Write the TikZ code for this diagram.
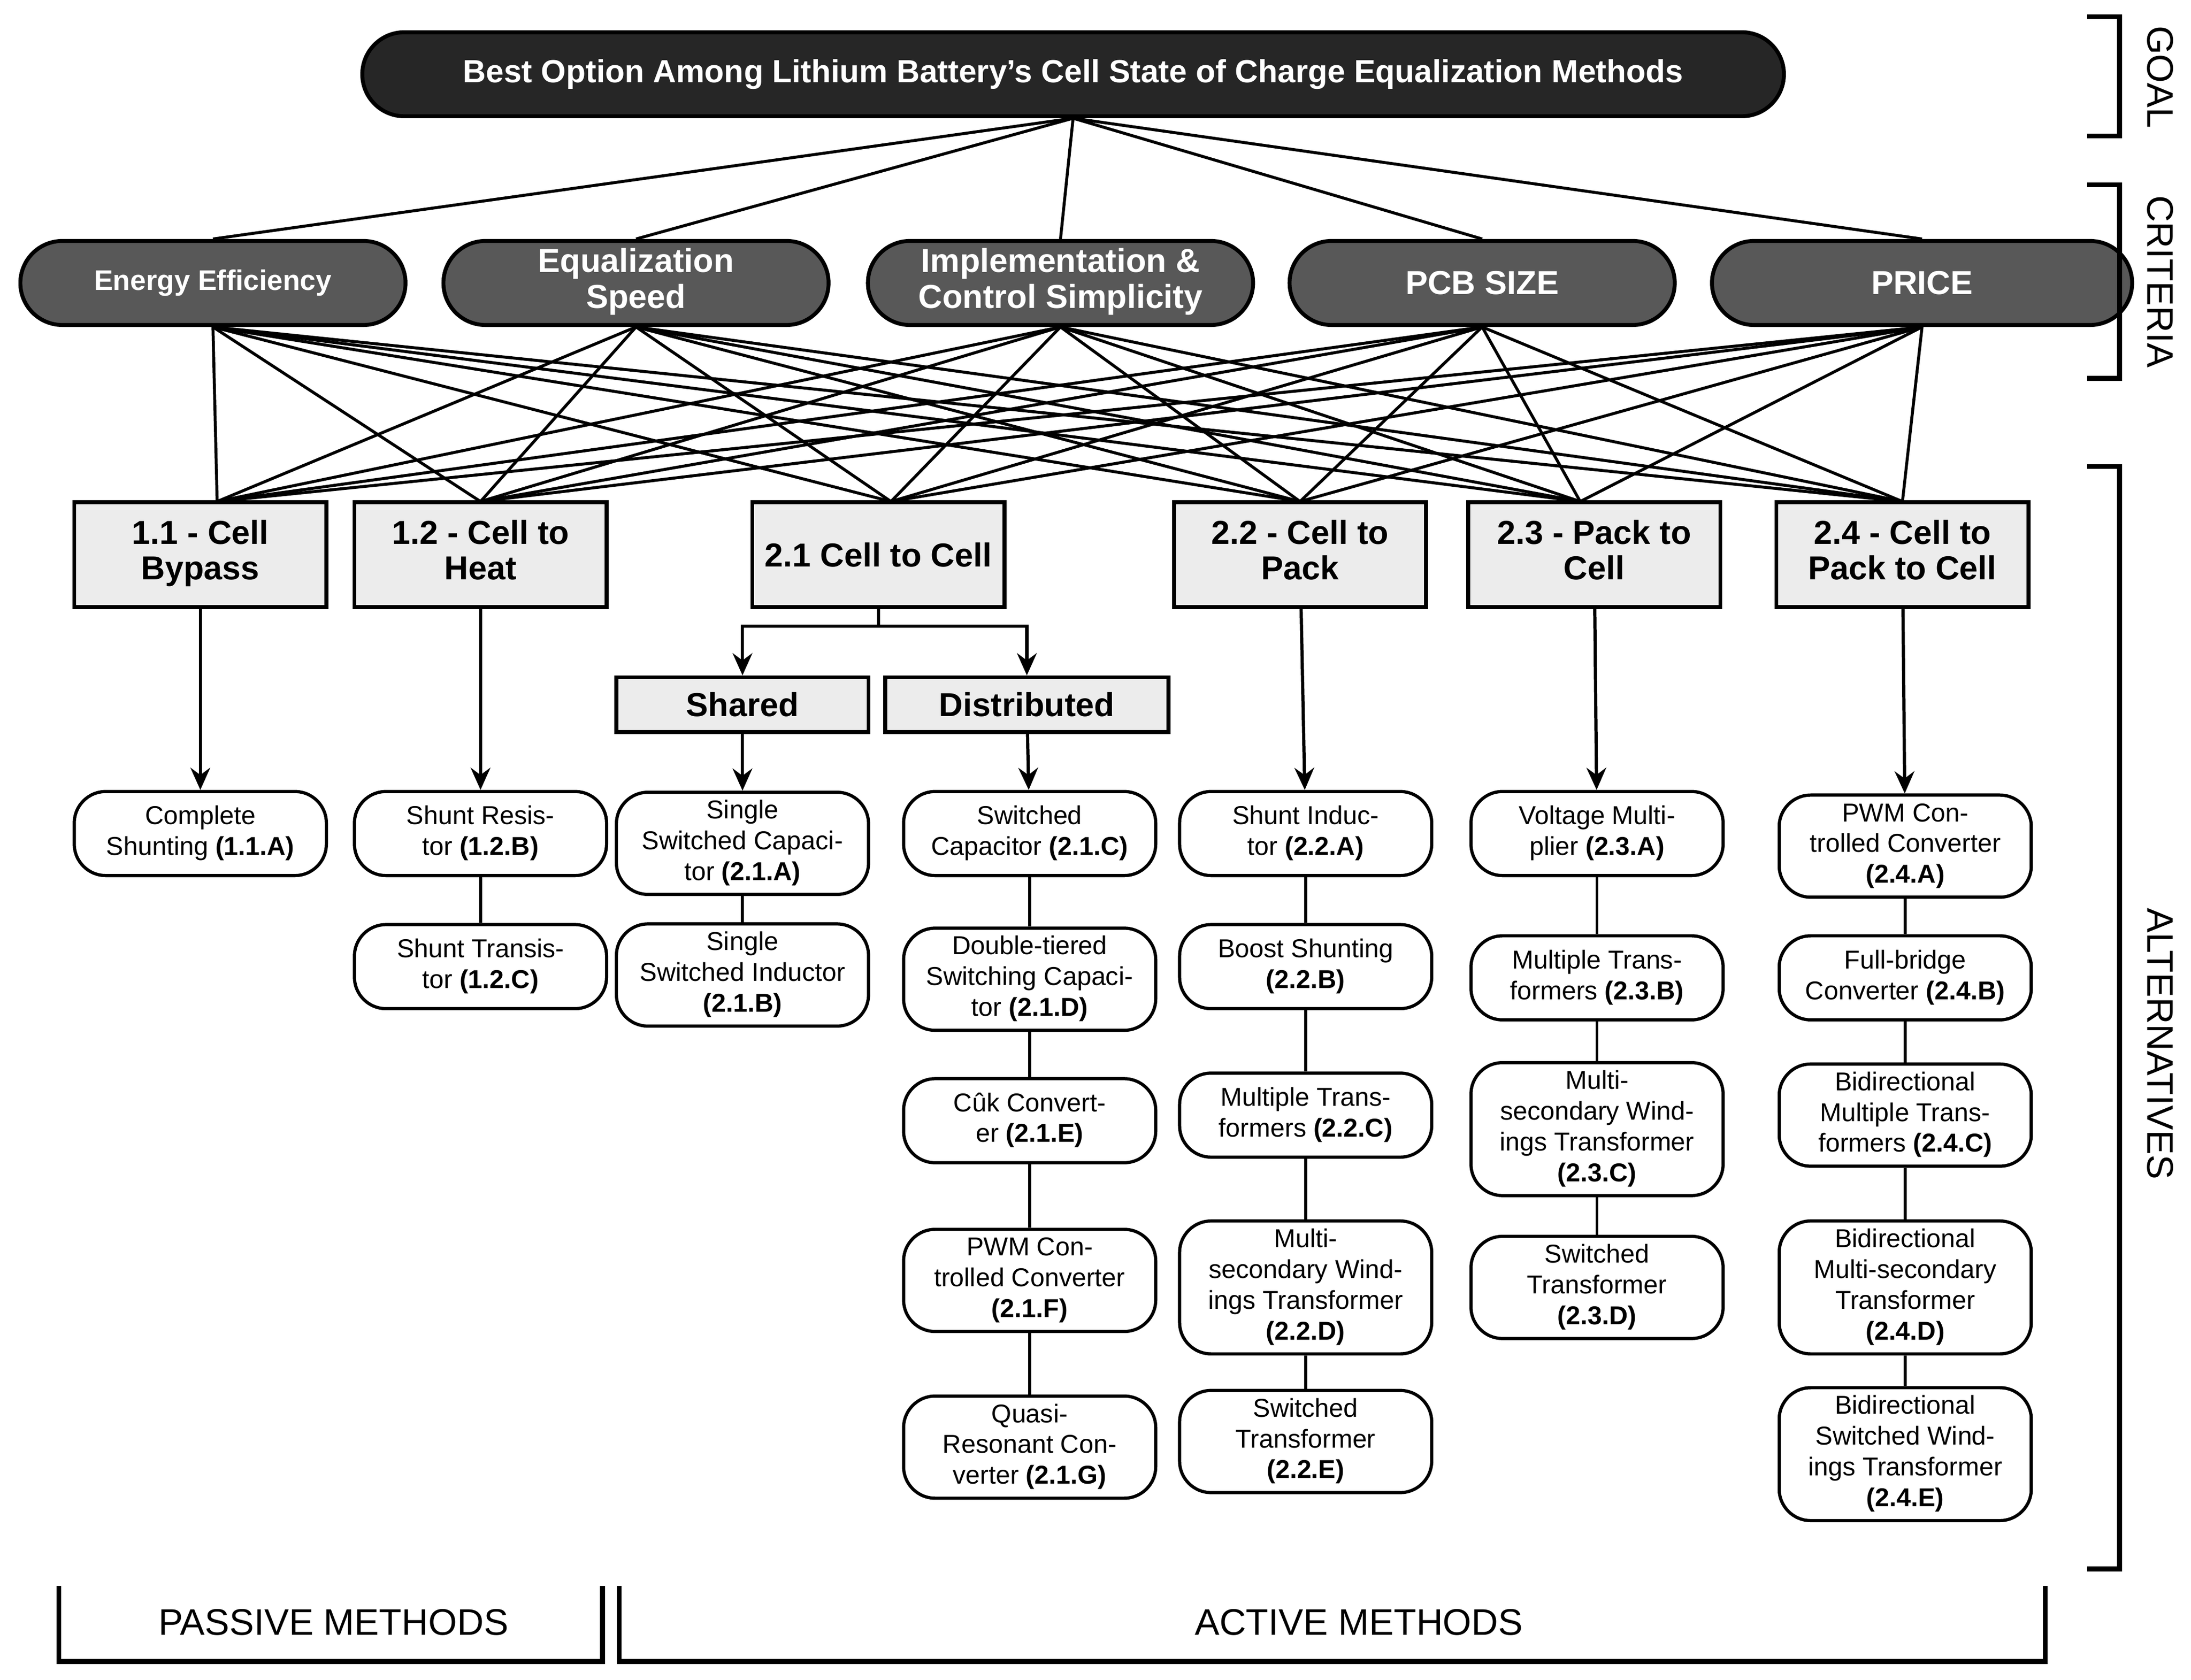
\documentclass[tikz,border=0pt]{standalone}
\usepackage{fontspec}
\setmainfont{Liberation Sans}
\usetikzlibrary{arrows.meta}
\definecolor{goalgray}{RGB}{38,38,38}
\definecolor{critgray}{RGB}{88,88,88}
\definecolor{catgray}{RGB}{236,236,236}
\tikzset{
  goal/.style={draw,line width=1.6pt,fill=goalgray,text=white,rounded corners=0.6cm,minimum width=20.3cm,minimum height=1.2cm,font=\fontsize{13}{15}\selectfont\bfseries},
  crit/.style={draw,line width=1.6pt,fill=critgray,text=white,rounded corners=0.6cm,minimum width=5.5cm,minimum height=1.2cm,inner sep=1pt,font=\fontsize{13.5}{14.5}\selectfont\bfseries},
  cat/.style={draw,line width=1.6pt,fill=catgray,minimum width=3.6cm,minimum height=1.5cm,inner sep=1pt,font=\fontsize{13.5}{14.5}\selectfont\bfseries},
  leaf/.style={draw,line width=1.3pt,fill=white,rounded corners=0.45cm,minimum width=3.6cm,minimum height=1.2cm,inner sep=2pt,font=\fontsize{10.5}{12.5}\selectfont},
  link/.style={line width=1.2pt},
  arr/.style={line width=1.3pt,-{Stealth[length=9pt,width=8pt]}},
  side/.style={font=\fontsize{15}{17}\selectfont,rotate=-90},
}
\begin{document}
\begin{tikzpicture}[x=0.02cm,y=-0.02cm]
            \useasboundingbox (0,0) rectangle (1564,1199);

            \node[goal] (G) at (766, 53) {Best Option Among Lithium Battery’s Cell State of Charge Equalization Methods};

            \node[crit,font=\fontsize{11.5}{13}\selectfont\bfseries] (en) at (152, 202) {Energy Efficiency};
            \node[crit] (eq) at (454, 202) {\begin{tabular}{c}Equalization\\Speed\end{tabular}};
            \node[crit] (im) at (757, 202) {\begin{tabular}{c}Implementation \&\\Control Simplicity\end{tabular}};
            \node[crit] (pcb) at (1058, 202) {PCB SIZE};
            \node[crit,minimum width=6cm] (pr) at (1372, 202) {PRICE};

            \node[cat] (c11) at (143, 396) {\begin{tabular}{c}1.1 - Cell\\Bypass\end{tabular}};
            \node[cat] (c12) at (343, 396) {\begin{tabular}{c}1.2 - Cell to\\Heat\end{tabular}};
            \node[cat] (c21) at (627, 396) {2.1 Cell to Cell};
            \node[cat] (c22) at (928, 396) {\begin{tabular}{c}2.2 - Cell to\\Pack\end{tabular}};
            \node[cat] (c23) at (1138, 396) {\begin{tabular}{c}2.3 - Pack to\\Cell\end{tabular}};
            \node[cat] (c24) at (1358, 396) {\begin{tabular}{c}2.4 - Cell to\\Pack to Cell\end{tabular}};

            \coordinate (t1) at (155, 358);
            \coordinate (t2) at (343, 358);
            \coordinate (t3) at (636, 358);
            \coordinate (t4) at (928, 358);
            \coordinate (t5) at (1128, 358);
            \coordinate (t6) at (1358, 358);

            \node[cat,minimum height=0.78cm] (sh) at (530, 503) {Shared};
            \node[cat,minimum width=4.04cm,minimum height=0.78cm] (di) at (733, 503) {Distributed};
            \coordinate (split) at (627, 447);

            % passive
            \node[leaf] (l11a) at (143, 595) {\begin{tabular}{c}Complete\\Shunting \textbf{(1.1.A)}\end{tabular}};
            \node[leaf] (l12b) at (343, 595) {\begin{tabular}{c}Shunt Resis-\\tor \textbf{(1.2.B)}\end{tabular}};
            \node[leaf] (l12c) at (343, 690) {\begin{tabular}{c}Shunt Transis-\\tor \textbf{(1.2.C)}\end{tabular}};

            % cell to cell
            \node[leaf] (l21a) at (530, 602) {\begin{tabular}{c}Single\\Switched Capaci-\\tor \textbf{(2.1.A)}\end{tabular}};
            \node[leaf] (l21b) at (530, 696) {\begin{tabular}{c}Single\\Switched Inductor\\\textbf{(2.1.B)}\end{tabular}};
            \node[leaf] (l21c) at (735, 595) {\begin{tabular}{c}Switched\\Capacitor \textbf{(2.1.C)}\end{tabular}};
            \node[leaf] (l21d) at (735, 699) {\begin{tabular}{c}Double-tiered\\Switching Capaci-\\tor \textbf{(2.1.D)}\end{tabular}};
            \node[leaf] (l21e) at (735, 800) {\begin{tabular}{c}Cûk Convert-\\er \textbf{(2.1.E)}\end{tabular}};
            \node[leaf] (l21f) at (735, 914) {\begin{tabular}{c}PWM Con-\\trolled Converter\\\textbf{(2.1.F)}\end{tabular}};
            \node[leaf] (l21g) at (735, 1033) {\begin{tabular}{c}Quasi-\\Resonant Con-\\verter \textbf{(2.1.G)}\end{tabular}};

            % cell to pack
            \node[leaf] (l22a) at (932, 595) {\begin{tabular}{c}Shunt Induc-\\tor \textbf{(2.2.A)}\end{tabular}};
            \node[leaf] (l22b) at (932, 690) {\begin{tabular}{c}Boost Shunting\\\textbf{(2.2.B)}\end{tabular}};
            \node[leaf] (l22c) at (932, 796) {\begin{tabular}{c}Multiple Trans-\\formers \textbf{(2.2.C)}\end{tabular}};
            \node[leaf] (l22d) at (932, 919) {\begin{tabular}{c}Multi-\\secondary Wind-\\ings Transformer\\\textbf{(2.2.D)}\end{tabular}};
            \node[leaf] (l22e) at (932, 1029) {\begin{tabular}{c}Switched\\Transformer\\\textbf{(2.2.E)}\end{tabular}};

            % pack to cell
            \node[leaf] (l23a) at (1140, 595) {\begin{tabular}{c}Voltage Multi-\\plier \textbf{(2.3.A)}\end{tabular}};
            \node[leaf] (l23b) at (1140, 698) {\begin{tabular}{c}Multiple Trans-\\formers \textbf{(2.3.B)}\end{tabular}};
            \node[leaf] (l23c) at (1140, 806) {\begin{tabular}{c}Multi-\\secondary Wind-\\ings Transformer\\\textbf{(2.3.C)}\end{tabular}};
            \node[leaf] (l23d) at (1140, 919) {\begin{tabular}{c}Switched\\Transformer\\\textbf{(2.3.D)}\end{tabular}};

            % cell to pack to cell
            \node[leaf] (l24a) at (1360, 604) {\begin{tabular}{c}PWM Con-\\trolled Converter\\\textbf{(2.4.A)}\end{tabular}};
            \node[leaf] (l24b) at (1360, 698) {\begin{tabular}{c}Full-bridge\\Converter \textbf{(2.4.B)}\end{tabular}};
            \node[leaf] (l24c) at (1360, 796) {\begin{tabular}{c}Bidirectional\\Multiple Trans-\\formers \textbf{(2.4.C)}\end{tabular}};
            \node[leaf] (l24d) at (1360, 919) {\begin{tabular}{c}Bidirectional\\Multi-secondary\\Transformer\\\textbf{(2.4.D)}\end{tabular}};
            \node[leaf] (l24e) at (1360, 1038) {\begin{tabular}{c}Bidirectional\\Switched Wind-\\ings Transformer\\\textbf{(2.4.E)}\end{tabular}};

            \foreach \c in {en,eq,im,pcb,pr} {
                \draw[link] (G.south) to (\c.north);
                \foreach \t in {t1,t2,t3,t4,t5,t6}
                    \draw[link] (\c.south) to (\t);
            }

            \draw[arr] (c11) to (l11a);
            \draw[arr] (c12) to (l12b);
            \draw[arr] (c22) to (l22a);
            \draw[arr] (c23) to (l23a);
            \draw[arr] (c24) to (l24a);
            \draw[link] (c21.south) to (split);
            \draw[arr] (split) -| (sh.north);
            \draw[arr] (split) -| (di.north);
            \draw[arr] (sh) to (l21a);
            \draw[arr] (di) to (l21c);

            \draw[link] (l12b) to (l12c);
            \draw[link] (l21a) to (l21b);
            \draw[link] (l21c) to (l21d) (l21d) to (l21e) (l21e) to (l21f) (l21f) to (l21g);
            \draw[link] (l22a) to (l22b) (l22b) to (l22c) (l22c) to (l22d) (l22d) to (l22e);
            \draw[link] (l23a) to (l23b) (l23b) to (l23c) (l23c) to (l23d);
            \draw[link] (l24a) to (l24b) (l24b) to (l24c) (l24c) to (l24d) (l24d) to (l24e);

            % brackets
            \draw[line width=2pt] (1490, 12) -| (1513, 97) -- (1490, 97);
            \draw[line width=2pt] (1490, 132) -| (1513, 270) -- (1490, 270);
            \draw[line width=2pt] (1490, 333) -| (1513, 1120) -- (1490, 1120);
            \node[side] (sg) at (1542, 55) {GOAL};
            \node[side] (sc) at (1542, 201) {CRITERIA};
            \node[side] (sa) at (1542, 745) {ALTERNATIVES};

            \draw[line width=2pt] (42, 1132) |- (430, 1186) -- (430, 1132);
            \draw[line width=2pt] (442, 1132) |- (1460, 1186) -- (1460, 1132);
            \node[font=\fontsize{15}{17}\selectfont] (pm) at (238, 1158) {PASSIVE METHODS};
            \node[font=\fontsize{15}{17}\selectfont] (am) at (970, 1158) {ACTIVE METHODS};
        \end{tikzpicture}
\end{document}
